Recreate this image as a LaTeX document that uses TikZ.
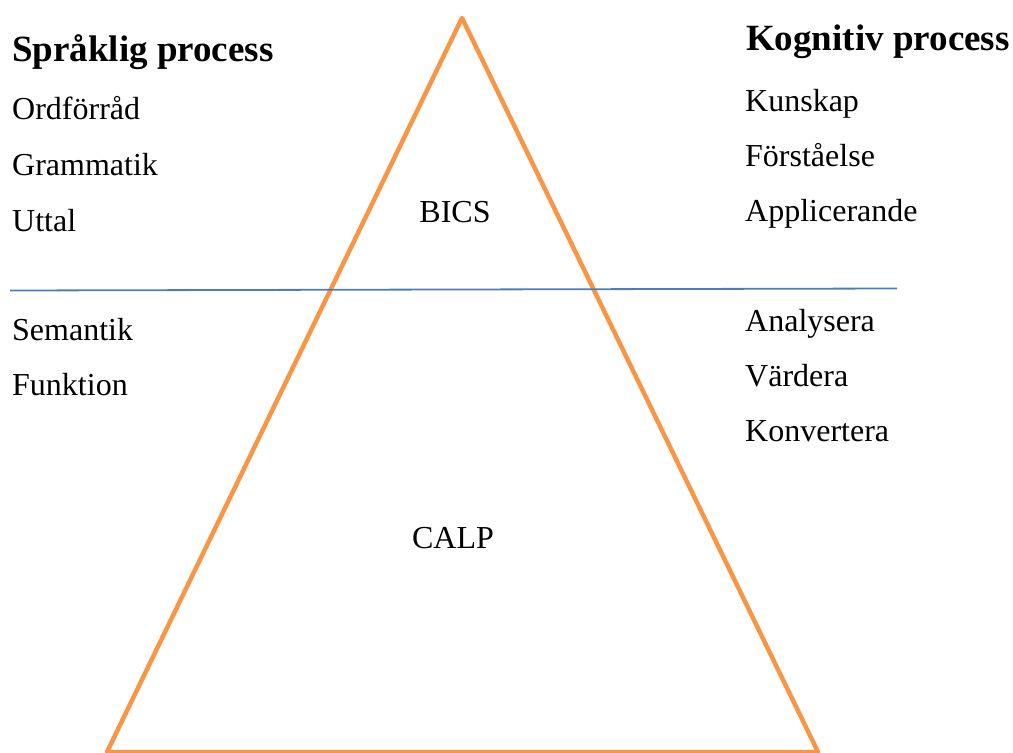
\documentclass[tikz,border=0pt]{standalone}
\usepackage{fontspec}
\setmainfont{Liberation Serif}
\definecolor{triorange}{RGB}{247,150,70}
\definecolor{lineblue}{RGB}{74,126,187}
\begin{document}
\begin{tikzpicture}[x=1pt,y=-1pt,
  lbl/.style={anchor=base west,inner sep=0pt,font=\fontsize{32}{36}\selectfont},
  ttl/.style={anchor=base west,inner sep=0pt,font=\fontsize{37}{42}\selectfont\bfseries},
  ctr/.style={anchor=base,inner sep=0pt,font=\fontsize{32}{36}\selectfont}]
\useasboundingbox (0,0) rectangle (1013,753);
\begin{scope}
\clip (0,0) rectangle (1013,753);
\coordinate (apex) at (462,18);
\coordinate (bl) at (107,752);
\coordinate (br) at (818,752);
\draw[triorange,line width=4.5pt,line join=round] (apex) -- (bl) -- (br) -- cycle;
\end{scope}
\coordinate (l1) at (10,290.5);
\coordinate (l2) at (897,288.5);
\draw[lineblue,line width=1.8pt] (l1) -- (l2);
\node[ttl] (t1) at (12,61) {Språklig process};
\node[lbl] (a1) at (12,119) {Ordförråd};
\node[lbl] (a2) at (12,175) {Grammatik};
\node[lbl] (a3) at (12,231) {Uttal};
\node[lbl] (a4) at (12,340) {Semantik};
\node[lbl] (a5) at (12,395) {Funktion};
\node[ttl] (t2) at (746,50) {Kognitiv process};
\node[lbl] (b1) at (745,111) {Kunskap};
\node[lbl] (b2) at (745,166) {Förståelse};
\node[lbl] (b3) at (745,221) {Applicerande};
\node[lbl] (b4) at (745,331) {Analysera};
\node[lbl] (b5) at (745,386) {Värdera};
\node[lbl] (b6) at (745,441) {Konvertera};
\node[ctr] (bics) at (455,222) {BICS};
\node[ctr] (calp) at (453,548) {CALP};
\end{tikzpicture}
\end{document}
